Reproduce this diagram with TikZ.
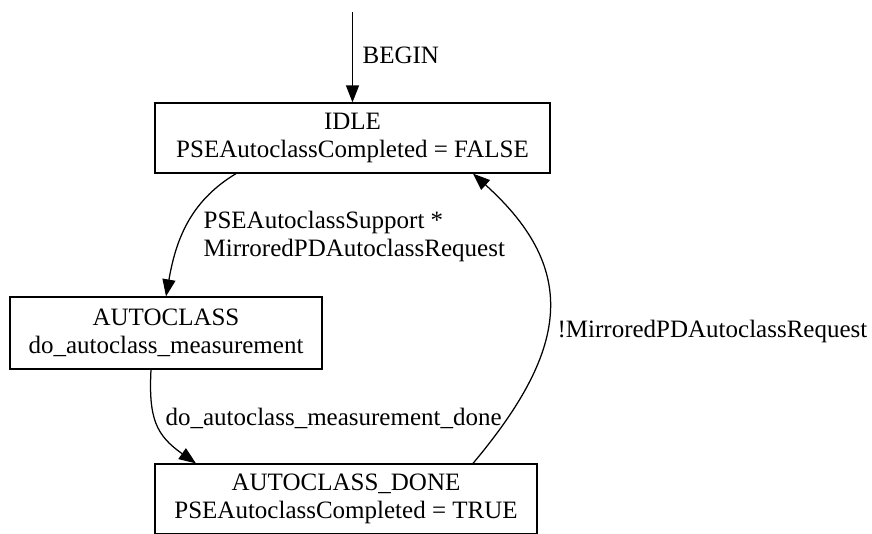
\documentclass[tikz,border=0pt]{standalone}
\usepackage{fontspec}
\setmainfont{Liberation Serif}
\usetikzlibrary{arrows.meta}

\begin{document}
\begin{tikzpicture}[x=1pt, y=-1pt, line width=1.25pt,
  every node/.style={font=\fontsize{25}{28}\selectfont},
  state/.style={draw, align=center, inner sep=0pt},
  lbl/.style={anchor=base west, align=left, inner sep=0pt},
  arr/.style={-{Triangle[length=17pt,width=13pt]}}]
\useasboundingbox (0,0) rectangle (872,533);

\node[state, minimum width=395pt, minimum height=70pt] (idle) at (352.5,138) {IDLE\\PSEAutoclassCompleted = FALSE};
\node[state, minimum width=312pt, minimum height=72pt] (auto) at (166,333) {AUTOCLASS\\do\_autoclass\_measurement};
\node[state, minimum width=382pt, minimum height=70pt] (done) at (346,499) {AUTOCLASS\_DONE\\PSEAutoclassCompleted = TRUE};

\coordinate (init) at (352.5,12);
\draw[arr] (init) -- (idle.north);
\node[lbl] (lbegin) at (362,63) {BEGIN};

\draw[arr] ([xshift=-116.5pt]idle.south) to[out=-149,in=80] (auto.north);
\node[lbl] (lsupport) at (203,256.7) {PSEAutoclassSupport *\\MirroredPDAutoclassRequest};

\draw[arr] ([xshift=-15pt]auto.south) to[out=-93,in=145,looseness=1.2] ([xshift=-150pt]done.north);
\node[lbl] (ldone) at (165,425) {do\_autoclass\_measurement\_done};

\draw[arr] ([xshift=127pt]done.north) to[out=50,in=-42,looseness=1.29] ([xshift=120.5pt]idle.south);
\node[lbl] (lreq) at (557,337) {!MirroredPDAutoclassRequest};
\end{tikzpicture}
\end{document}
